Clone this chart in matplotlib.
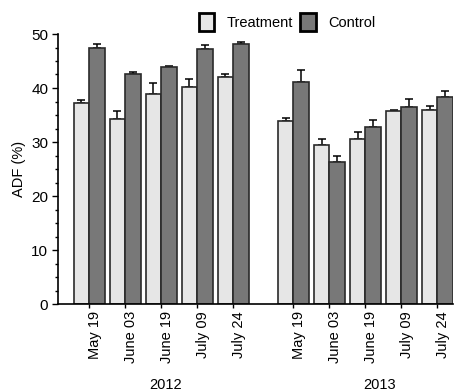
import matplotlib
matplotlib.use("Agg")
import matplotlib.pyplot as plt
import matplotlib.patches as mpatches
from matplotlib.ticker import MultipleLocator
from matplotlib.transforms import ScaledTranslation
import numpy as np

plt.rcParams['font.family'] = ['Liberation Sans', 'DejaVu Sans']

years = ["2012", "2013"]
dates = ["May 19", "June 03", "June 19", "July 09", "July 24"]
treat_2012 = [37.3, 34.2, 38.9, 40.2, 42.0]
treat_2012_err = [0.5, 1.6, 2.1, 1.5, 0.5]
ctrl_2012 = [47.5, 42.6, 43.8, 47.3, 48.1]
ctrl_2012_err = [0.6, 0.4, 0.3, 0.7, 0.4]
treat_2013 = [33.9, 29.5, 30.5, 35.8, 36.0]
treat_2013_err = [0.5, 1.1, 1.4, 0.2, 0.7]
ctrl_2013 = [41.2, 26.3, 32.8, 36.5, 38.3]
ctrl_2013_err = [2.1, 1.1, 1.2, 1.5, 1.1]

treat = treat_2012 + treat_2013
treat_err = treat_2012_err + treat_2013_err
ctrl = ctrl_2012 + ctrl_2013
ctrl_err = ctrl_2012_err + ctrl_2013_err
labels = dates + dates

W, H = 462, 392
fig = plt.figure(figsize=(W / 100, H / 100), dpi=100)
ax = fig.add_axes([58 / W, 1 - 304 / H, (453 - 58) / W, (304 - 34) / H])

n = len(dates)
group_gap = 5.667
pos = np.concatenate([np.arange(n), np.arange(n) + group_gap])
bw = 0.435

c_t = "#e6e6e6"
c_c = "#787878"
edge = "#2a2a2a"
ax.bar(pos - bw / 2, treat, width=bw, color=c_t, edgecolor=edge, linewidth=1.2, zorder=2)
ax.bar(pos + bw / 2, ctrl, width=bw, color=c_c, edgecolor=edge, linewidth=1.2, zorder=2)
ax.errorbar(pos - bw / 2, treat, yerr=[np.zeros(len(treat)), treat_err], fmt="none",
            ecolor="black", elinewidth=1.1, capsize=3, capthick=1.1, zorder=1)
ax.errorbar(pos + bw / 2, ctrl, yerr=[np.zeros(len(ctrl)), ctrl_err], fmt="none",
            ecolor="black", elinewidth=1.1, capsize=3, capthick=1.1, zorder=1)

ax.set_xlim(-0.87, pos[-1] + bw)
ax.set_ylim(0, 50)
ax.spines['top'].set_visible(False)
ax.spines['right'].set_visible(False)
for s in ['left', 'bottom']:
    ax.spines[s].set_linewidth(1.2)
    ax.spines[s].set_color('black')

ax.yaxis.set_major_locator(MultipleLocator(10))
ax.yaxis.set_minor_locator(MultipleLocator(2.5))
ax.tick_params(axis='y', which='major', length=4, width=1, labelsize=11, pad=3)
ax.tick_params(axis='y', which='minor', length=2, width=1)
ax.set_xticks(pos)
ax.set_xticklabels(labels, rotation=90, fontsize=10.5, va='top', ha='center')
ax.tick_params(axis='x', length=3, width=1, pad=2)
off = ScaledTranslation(6 / 100, 0, fig.dpi_scale_trans)
for lbl in ax.get_xticklabels():
    lbl.set_transform(lbl.get_transform() + off)

ax.set_ylabel("ADF (%)", fontsize=10.5, labelpad=4)

fig.text(166 / W, 1 - 385 / H, years[0], ha='center', va='center', fontsize=10.5)
fig.text(380 / W, 1 - 385 / H, years[1], ha='center', va='center', fontsize=10.5)

handles = [mpatches.Patch(facecolor=c_t, edgecolor='black', linewidth=2, label="Treatment"),
           mpatches.Patch(facecolor=c_c, edgecolor='black', linewidth=2, label="Control")]
fig.legend(handles=handles, loc='center left', bbox_to_anchor=(199 / W, 1 - 22 / H),
           ncol=2, frameon=False, fontsize=10.5, handlelength=1.05, handleheight=1.5,
           handletextpad=0.85, columnspacing=0.5, borderpad=0, borderaxespad=0)

fig.savefig("out.png", dpi=100)
